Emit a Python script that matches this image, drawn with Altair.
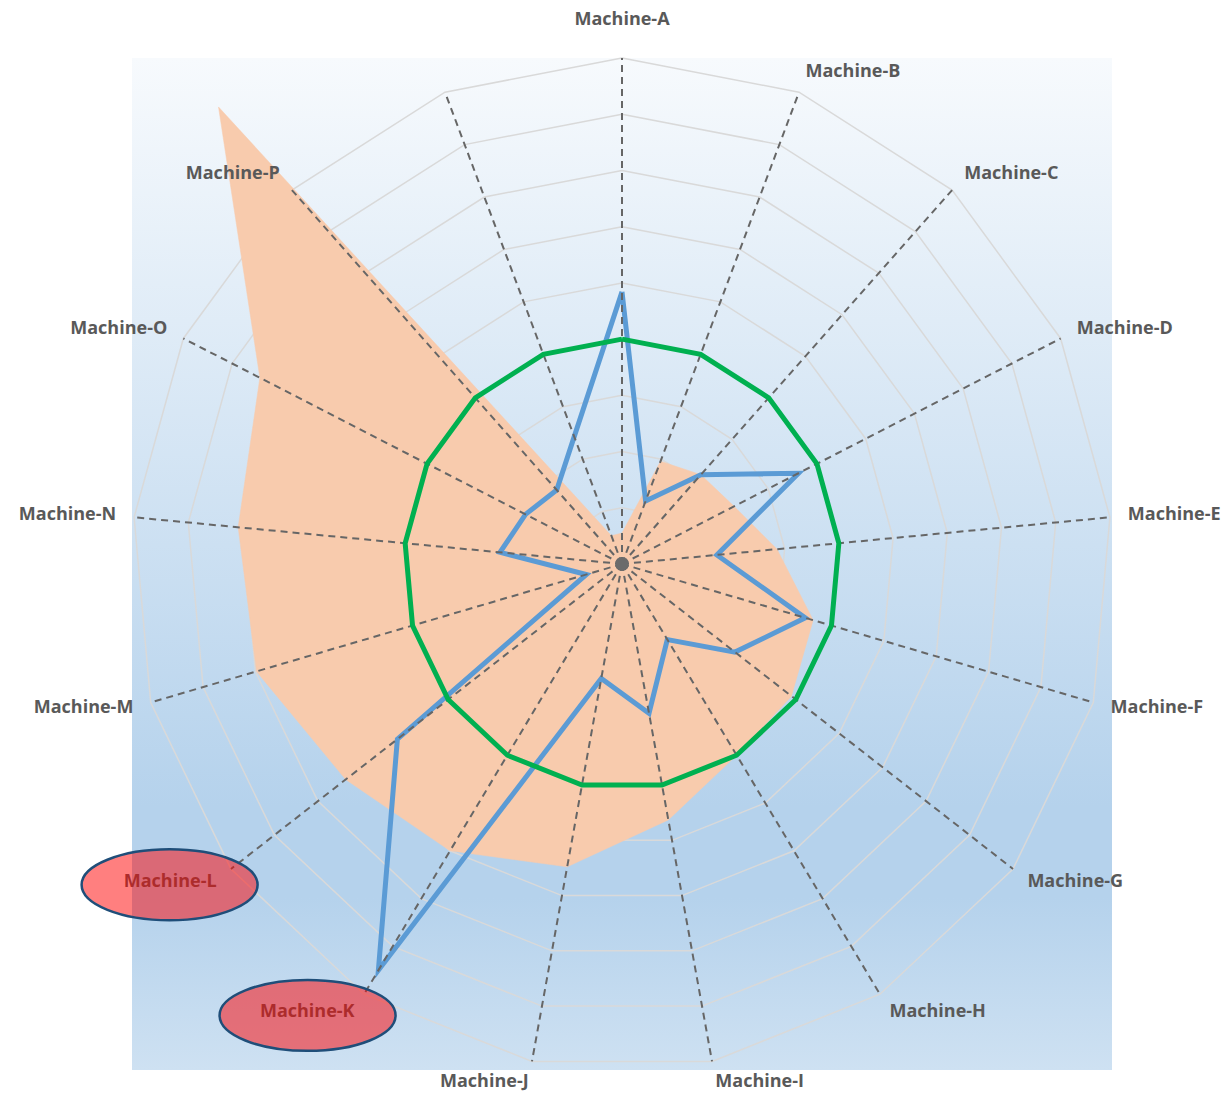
import altair as alt
import pandas as pd

# ---------------- data ----------------
labels = ["Machine-A", "Machine-B", "Machine-C", "Machine-D", "Machine-E",
          "Machine-F", "Machine-G", "Machine-H", "Machine-I", "Machine-J",
          "Machine-K", "Machine-L", "Machine-M", "Machine-N", "Machine-O",
          "Machine-P", ""]
orange_values = [5.5, 19.6, 21.5, 23.0, 28.6, 36.5, 39.0, 40.0, 46.3, 54.8,
                 60.0, 63.6, 69.8, 70.8, 74.3, 110.0, 5.4]
blue_values = [48.4, 12.0, 21.5, 36.2, 17.5, 35.0, 26.0, 15.8, 27.0, 20.7,
               85.0, 51.7, 6.8, 22.5, 19.8, 17.8, 24.3]
green_values = [40, 40, 40, 40, 40, 40, 40, 40, 40, 40,
                40, 40, 40, 40, 40, 40, 40]
ring_levels = [10, 20, 30, 40, 50, 60, 70, 80, 90]
axis_max = 90
highlighted = ["Machine-L", "Machine-K"]

# ---------------- layout (pixels) ----------------
W, H = 1231, 1097
CX, CY = 622, 564          # centre of the radar
RX, RY = 490, 506          # pixel radius of the outer ring (x / y)
UX = axis_max / RX         # data units per pixel, x
UY = axis_max / RY         # data units per pixel, y
XMIN, XMAX = -CX * UX, (W - CX) * UX
YMIN, YMAX = -(H - CY) * UY, CY * UY
N = len(labels)

xs = alt.Scale(domain=[XMIN, XMAX], nice=False, zero=False)
ys = alt.Scale(domain=[YMIN, YMAX], nice=False, zero=False)

THETA = f"2*PI*datum.idx/{N}"


def polar(chart):
    return chart.transform_calculate(
        x=f"datum.value*sin({THETA})",
        y=f"datum.value*cos({THETA})",
    )


def X(field="x"):
    return alt.X(f"{field}:Q", scale=xs, axis=None)


def Y(field="y"):
    return alt.Y(f"{field}:Q", scale=ys, axis=None)


# closed series tables
def closed(values, name):
    rows = [{"series": name, "idx": i, "value": v} for i, v in enumerate(values)]
    rows.append({"series": name, "idx": N, "value": values[0]})
    return pd.DataFrame(rows)


orange_df = closed(orange_values, "orange")
blue_df = closed(blue_values, "blue")
green_df = closed(green_values, "green")

ring_rows = []
for lv in ring_levels:
    for i in range(N + 1):
        ring_rows.append({"level": lv, "idx": i, "value": lv})
ring_df = pd.DataFrame(ring_rows)

spoke_df = pd.DataFrame({"idx": list(range(N)), "value": [axis_max] * N,
                         "label": labels})

bg_df = pd.DataFrame({"lo": [-axis_max], "hi": [axis_max]})
center_df = pd.DataFrame({"x": [0], "y": [0]})

# ---------------- layers ----------------
background = alt.Chart(bg_df).mark_rect(
    color=alt.Gradient(
        gradient="linear",
        stops=[
            alt.GradientStop(color="#F7FAFD", offset=0),
            alt.GradientStop(color="#B5D2EC", offset=0.74),
            alt.GradientStop(color="#B5D2EC", offset=0.83),
            alt.GradientStop(color="#CEE1F2", offset=1),
        ],
        x1=0, x2=0, y1=0, y2=1,
    )
).encode(x=X("lo"), x2="hi", y=Y("lo"), y2="hi")

rings = polar(alt.Chart(ring_df)).mark_line(
    color="#D9D9D9", strokeWidth=1.5
).encode(x=X(), y=Y(), detail="level:N", order="idx:Q")

orange = polar(alt.Chart(orange_df)).mark_line(
    fill="#F8CBAD", stroke="#F8CBAD", strokeWidth=0.5
).encode(x=X(), y=Y(), order="idx:Q")

blue = polar(alt.Chart(blue_df)).mark_line(
    color="#5B9BD5", strokeWidth=5, strokeJoin="miter"
).encode(x=X(), y=Y(), order="idx:Q")

spokes = polar(alt.Chart(spoke_df)).transform_calculate(
    x0="0", y0="0"
).mark_rule(
    color="#666666", strokeWidth=2, strokeDash=[7, 5]
).encode(x=X("x0"), y=Y("y0"), x2="x:Q", y2="y:Q")

green = polar(alt.Chart(green_df)).mark_line(
    color="#00B050", strokeWidth=5, strokeJoin="miter"
).encode(x=X(), y=Y(), order="idx:Q")

center = alt.Chart(center_df).mark_circle(
    color="#6B6B6B", size=190, opacity=1
).encode(x=X(), y=Y())

# labels
lab_base = alt.Chart(spoke_df).transform_filter(
    "isValid(datum.label) && datum.label != ''"
).transform_calculate(
    s=f"sin({THETA})", c=f"cos({THETA})"
).transform_calculate(
    side="datum.s > 0.1 ? 'left' : (datum.s < -0.1 ? 'right' : 'center')",
    lx=f"datum.s*({axis_max} + 18*{UX})",
    ly=f"datum.side == 'center' ? datum.c*({axis_max} + 38*{UY}) : datum.c*({axis_max} + 21.4*{UY})",
)

label_layers = []
for side in ["left", "right", "center"]:
    label_layers.append(
        lab_base.transform_filter(f"datum.side == '{side}'").mark_text(
            align=side, baseline="middle", font="Open Sans", fontSize=18,
            fontWeight="bold", color="#595959"
        ).encode(x=X("lx"), y=Y("ly"), text="label:N")
    )

ellipse_path = "M -1 0 A 1 0.403 0 1 1 1 0 A 1 0.403 0 1 1 -1 0 Z"
ellipses = lab_base.transform_filter(
    alt.FieldOneOfPredicate(field="label", oneOf=highlighted)
).transform_calculate(
    ex=f"datum.lx - 47*{UX}", ey=f"datum.ly - 3*{UY}"
).mark_point(
    shape=ellipse_path, size=176 * 176, filled=True, fill="#FF0000",
    fillOpacity=0.5, stroke="#1F4E79", strokeWidth=2.5, opacity=1
).encode(x=X("ex"), y=Y("ey"))

chart = alt.layer(
    background, rings, orange, blue, spokes, green, center,
    *label_layers, ellipses
).properties(
    width=W, height=H, padding=0, autosize="none", background="white"
).configure_view(stroke=None)

chart.save("out.html", embed_options={"renderer": "svg", "actions": False})
